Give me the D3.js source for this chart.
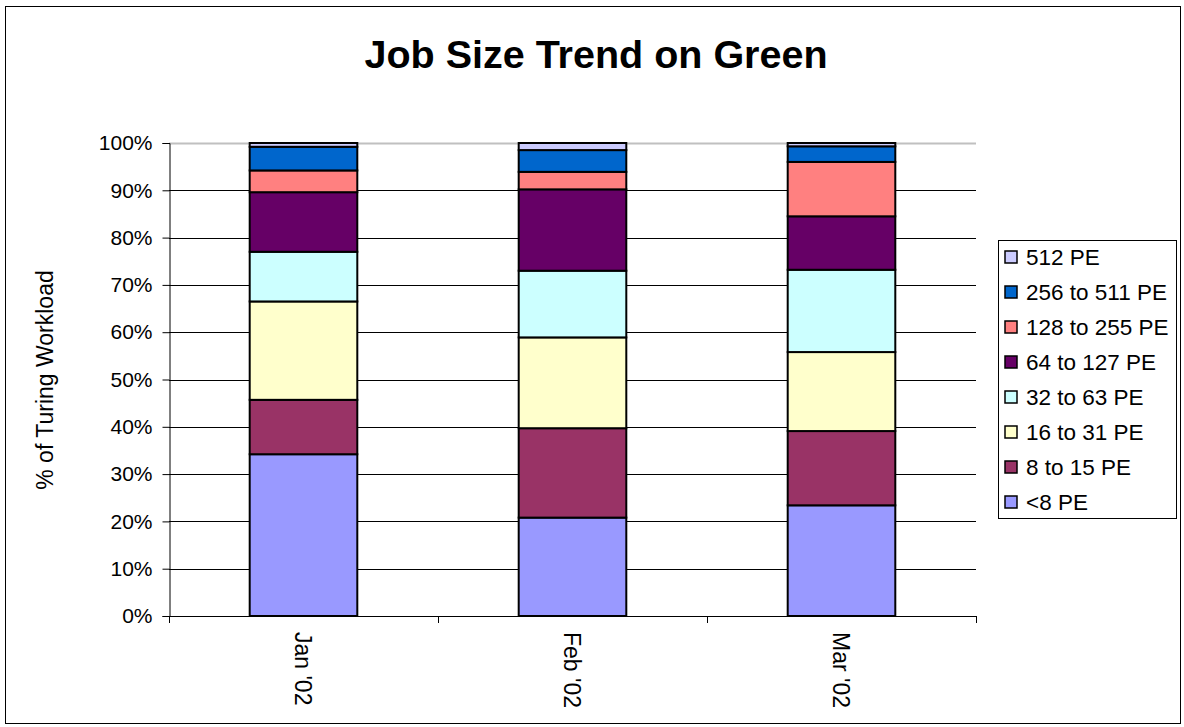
<!DOCTYPE html>
<html>
<head>
<meta charset="utf-8">
<script src="https://cdn.jsdelivr.net/npm/d3@7"></script>
<style>
  body { margin: 0; background: #fff; }
  svg text { font-family: "Liberation Sans", Arial, sans-serif; }
</style>
</head>
<body>
<div id="chart"></div>
<script>
// data (percent of workload)
const months = ["Jan '02", "Feb '02", "Mar '02"];
const sizes = ["<8 PE", "8 to 15 PE", "16 to 31 PE", "32 to 63 PE",
               "64 to 127 PE", "128 to 255 PE", "256 to 511 PE", "512 PE"];
const lt8     = [34.2, 20.8, 23.4];
const pe8     = [11.5, 18.9, 15.7];
const pe16    = [20.8, 19.2, 16.7];
const pe32    = [10.5, 14.1, 17.4];
const pe64    = [12.6, 17.2, 11.3];
const pe128   = [4.6, 3.7, 11.5];
const pe256   = [5.0, 4.6, 3.3];
const pe512   = [0.8, 1.5, 0.7];
const yTicks  = [0, 10, 20, 30, 40, 50, 60, 70, 80, 90, 100];
const colors  = ["#9999FF", "#993366", "#FFFFCC", "#CCFFFF",
                 "#660066", "#FF8080", "#0066CC", "#CCCCFF"];

const series = [lt8, pe8, pe16, pe32, pe64, pe128, pe256, pe512];
const table = months.map((m, i) => {
  let row = { month: m };
  sizes.forEach((s, j) => { row[s] = series[j][i]; });
  return row;
});

const width = 1184, height = 727;
const plotLeft = 169, plotRight = 976, plotTop = 143, plotBottom = 616;

const svg = d3.select("#chart").append("svg")
    .attr("width", width)
    .attr("height", height);

// outer frame
svg.append("rect")
    .attr("x", 5.5).attr("y", 6.5)
    .attr("width", 1175).attr("height", 717)
    .attr("fill", "#fff")
    .attr("stroke", "#000")
    .attr("stroke-width", 1);

svg.append("text")
    .attr("x", 596).attr("y", 68)
    .attr("text-anchor", "middle")
    .attr("font-size", 39.5)
    .attr("font-weight", "bold")
    .text("Job Size Trend on Green");

let x = d3.scaleBand()
    .domain(months)
    .range([plotLeft, plotRight])
    .paddingInner(0.6)
    .paddingOuter(0.3);

let y = d3.scaleLinear()
    .domain([0, 100])
    .range([plotBottom, plotTop]);

// gridlines
svg.append("g")
    .selectAll("line")
    .data(yTicks.filter(d => d > 0))
    .join("line")
    .attr("x1", plotLeft).attr("x2", plotRight)
    .attr("y1", d => Math.round(y(d)) + 0.5)
    .attr("y2", d => Math.round(y(d)) + 0.5)
    .attr("stroke", d => d === 100 ? "#c0c0c0" : "#000")
    .attr("stroke-width", d => d === 100 ? 2 : 1);

// stacked bars
let stack = d3.stack().keys(sizes);
let layers = stack(table);

svg.append("g")
    .selectAll("g")
    .data(layers)
    .join("g")
    .attr("fill", (d, i) => colors[i])
    .selectAll("rect")
    .data(d => d)
    .join("rect")
    .attr("x", d => x(d.data.month))
    .attr("width", x.bandwidth())
    .attr("y", d => y(d[1]))
    .attr("height", d => y(d[0]) - y(d[1]))
    .attr("stroke", "#000")
    .attr("stroke-width", 2);

// y axis
let yAxis = d3.axisLeft(y)
    .tickValues(yTicks)
    .tickSize(7)
    .tickFormat(d => d + "%");

svg.append("g")
    .attr("transform", `translate(${plotLeft + 0.5},0)`)
    .call(yAxis)
    .call(g => g.selectAll("text")
        .attr("font-size", 21)
        .attr("font-family", "Liberation Sans, Arial, sans-serif")
        .attr("fill", "#000")
        .attr("x", -17))
    .call(g => g.selectAll("line, path").attr("stroke", "#000"));

// x axis, ticks between categories
let xEdges = [plotLeft, ...months.map(m => x(m) + x.bandwidth() / 2 + x.step() / 2)];
let xAxisG = svg.append("g");
xAxisG.append("line")
    .attr("x1", plotLeft).attr("x2", plotRight)
    .attr("y1", plotBottom + 0.5).attr("y2", plotBottom + 0.5)
    .attr("stroke", "#000");
xAxisG.selectAll("line.tick")
    .data(xEdges)
    .join("line")
    .attr("class", "tick")
    .attr("x1", d => Math.round(d) + 0.5).attr("x2", d => Math.round(d) + 0.5)
    .attr("y1", plotBottom).attr("y2", plotBottom + 7)
    .attr("stroke", "#000");
xAxisG.selectAll("text")
    .data(months)
    .join("text")
    .attr("transform", d => `translate(${x(d) + x.bandwidth() / 2},632) rotate(90)`)
    .attr("dy", "0.35em")
    .attr("font-size", 23)
    .text(d => d);

// y title
svg.append("text")
    .attr("transform", "translate(45,380) rotate(-90)")
    .attr("text-anchor", "middle")
    .attr("dy", "0.35em")
    .attr("font-size", 23)
    .text("% of Turing Workload");

// legend, top entry is last series
let legend = svg.append("g");
legend.append("rect")
    .attr("x", 998.5).attr("y", 240.5)
    .attr("width", 178).attr("height", 278)
    .attr("fill", "#fff")
    .attr("stroke", "#000");

let items = sizes.map((s, i) => ({ name: s, color: colors[i] })).reverse();
let entry = legend.selectAll("g.item")
    .data(items)
    .join("g")
    .attr("class", "item")
    .attr("transform", (d, i) => `translate(1005,${257 + i * 35})`);
entry.append("rect")
    .attr("x", 0).attr("y", -6)
    .attr("width", 12).attr("height", 12)
    .attr("fill", d => d.color)
    .attr("stroke", "#000")
    .attr("stroke-width", 1.5);
entry.append("text")
    .attr("x", 21)
    .attr("dy", "0.35em")
    .attr("font-size", 22.5)
    .text(d => d.name);
</script>
</body>
</html>
